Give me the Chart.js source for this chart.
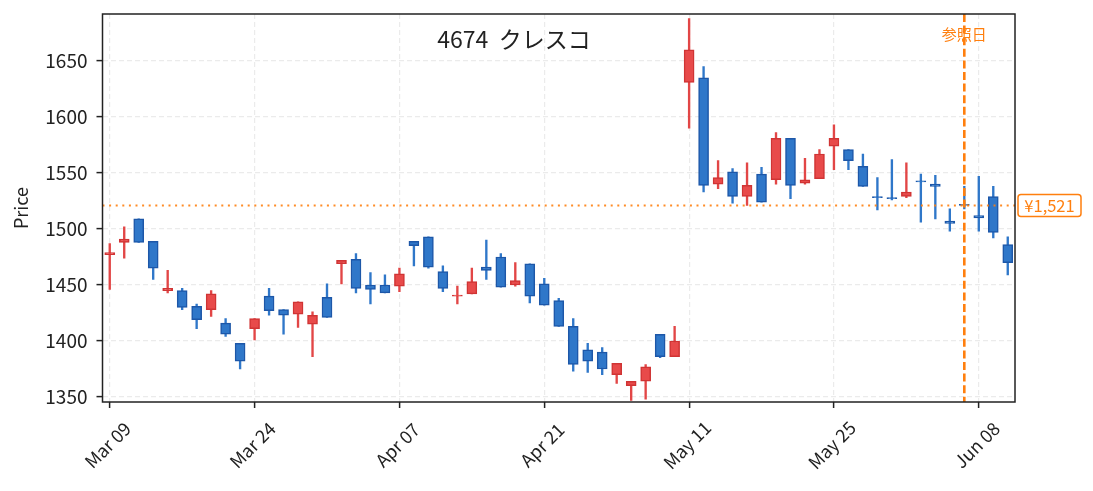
<!DOCTYPE html>
<html>
<head>
<meta charset="utf-8">
<script src="https://cdn.jsdelivr.net/npm/chart.js@4.4.1/dist/chart.umd.min.js"></script>
<style>
  html, body { margin: 0; background: #fff; }
  #wrap { width: 1093px; height: 491px; }
</style>
</head>
<body>
<div id="wrap"><canvas id="chart"></canvas></div>
<script>
// trading days, Mar 09 - Jun 10
const dates = [
  'Mar 09','Mar 10','Mar 11','Mar 12','Mar 13','Mar 16','Mar 17','Mar 18','Mar 19','Mar 23',
  'Mar 24','Mar 25','Mar 26','Mar 27','Mar 30','Mar 31','Apr 01','Apr 02','Apr 03','Apr 06',
  'Apr 07','Apr 08','Apr 09','Apr 10','Apr 13','Apr 14','Apr 15','Apr 16','Apr 17','Apr 20',
  'Apr 21','Apr 22','Apr 23','Apr 24','Apr 27','Apr 28','Apr 30','May 01','May 07','May 08',
  'May 11','May 12','May 13','May 14','May 15','May 18','May 19','May 20','May 21','May 22',
  'May 25','May 26','May 27','May 28','May 29','Jun 01','Jun 02','Jun 03','Jun 04','Jun 05',
  'Jun 08','Jun 09','Jun 10'
];
const opens = [
  1477,1488,1509,1489,1445,1445,1431,1428,1416,1398,
  1411,1440,1428,1424,1415,1439,1469,1473,1450,1450,
  1449,1489,1493,1462,1440,1442,1466,1475,1450,1469,
  1451,1436,1413,1392,1390,1370,1360,1364,1406,1386,
  1631,1635,1540,1551,1529,1549,1544,1581,1541,1545,
  1574,1571,1556,1529,1528,1529,1543,1540,1507,1522,
  1512,1529,1486
];
const highs = [
  1487,1502,1509,1489,1463,1447,1433,1445,1420,1398,
  1420,1447,1428,1435,1426,1451,1472,1478,1461,1459,
  1465,1489,1493,1467,1449,1465,1490,1478,1470,1469,
  1456,1438,1420,1398,1394,1380,1364,1379,1406,1413,
  1688,1645,1561,1554,1559,1555,1586,1581,1563,1571,
  1593,1571,1567,1546,1562,1559,1549,1548,1518,1538,
  1547,1538,1493
];
const lows = [
  1446,1474,1488,1455,1443,1428,1411,1422,1404,1375,
  1401,1423,1406,1412,1386,1421,1451,1443,1433,1443,
  1444,1467,1465,1444,1433,1442,1455,1448,1449,1434,
  1432,1413,1373,1372,1370,1362,1347,1348,1385,1386,
  1590,1533,1536,1523,1521,1524,1540,1527,1540,1545,
  1553,1553,1538,1517,1526,1528,1506,1509,1498,1518,
  1498,1492,1459
];
const closes = [
  1479,1491,1488,1465,1447,1430,1419,1442,1406,1382,
  1420,1427,1423,1435,1423,1421,1472,1447,1446,1443,
  1460,1485,1466,1447,1441,1453,1463,1448,1454,1440,
  1432,1413,1379,1382,1375,1380,1364,1377,1386,1400,
  1660,1539,1546,1529,1539,1524,1581,1539,1544,1567,
  1581,1561,1538,1528,1527,1533,1542,1538,1505,1521,
  1510,1497,1470
];
const yTicks = [1350, 1400, 1450, 1500, 1550, 1600, 1650];
const tickEvery = 10;
const refIndex = 59;      // 参照日 = Jun 05
const refPrice = 1521;
const titleText = '4674  クレスコ';

const FONT = "'Noto Sans CJK JP', 'Noto Sans', sans-serif";
const ORANGE = '#ff7f0e';
const isUp = i => closes[i] >= opens[i];

const overlay = {
  id: 'overlay',
  afterDatasetsDraw(chart) {
    const { ctx, chartArea: a, scales: { x, y } } = chart;
    ctx.save();

    // horizontal dotted price line
    const py = y.getPixelForValue(refPrice);
    ctx.strokeStyle = 'rgba(255,127,14,0.9)';
    ctx.lineWidth = 2;
    ctx.setLineDash([2, 4.6]);
    ctx.beginPath(); ctx.moveTo(a.left, py); ctx.lineTo(a.right, py); ctx.stroke();

    // vertical dashed reference day
    const rx = x.getPixelForValue(refIndex);
    ctx.strokeStyle = ORANGE;
    ctx.lineWidth = 2.6;
    ctx.setLineDash([8, 3.6]);
    ctx.beginPath(); ctx.moveTo(rx, a.top); ctx.lineTo(rx, a.bottom); ctx.stroke();
    ctx.setLineDash([]);

    ctx.fillStyle = ORANGE;
    ctx.font = '15px ' + FONT;
    ctx.textAlign = 'center';
    ctx.textBaseline = 'middle';
    ctx.fillText('参照日', rx, 34);

    // frame
    ctx.strokeStyle = '#222';
    ctx.lineWidth = 1.5;
    ctx.strokeRect(a.left, a.top, a.right - a.left, a.bottom - a.top);

    // title
    ctx.fillStyle = '#222';
    ctx.font = '23px ' + FONT;
    ctx.fillText(titleText, 514, 39);

    // price tag on the right
    const label = '¥' + refPrice.toLocaleString('en-US');
    ctx.font = '16.5px ' + FONT;
    const bx = a.right + 3, bw = 63, bh = 22;
    ctx.beginPath();
    ctx.roundRect(bx, py - bh / 2, bw, bh, 3);
    ctx.fillStyle = '#fff';
    ctx.fill();
    ctx.strokeStyle = ORANGE;
    ctx.lineWidth = 1.5;
    ctx.stroke();
    ctx.fillStyle = ORANGE;
    ctx.fillText(label, bx + bw / 2, py + 0.5);

    // rotated date labels
    ctx.fillStyle = '#222';
    ctx.font = '18px ' + FONT;
    dates.forEach((d, i) => {
      if (i % tickEvery !== 0) return;
      const tx = x.getPixelForValue(i);
      ctx.save();
      ctx.translate(tx - 2, 445);
      ctx.rotate(-Math.PI / 4);
      ctx.fillText(d, 0, 0);
      ctx.restore();
    });

    ctx.restore();
  }
};

new Chart(document.getElementById('chart'), {
  type: 'bar',
  data: {
    labels: dates,
    datasets: [
      {
        label: 'body',
        data: opens.map((o, i) => [o, closes[i]]),
        grouped: false,
        barThickness: 10,
        borderWidth: 1.5,
        borderSkipped: false,
        backgroundColor: opens.map((o, i) => isUp(i) ? '#e84a4a' : '#2f77c9'),
        borderColor: opens.map((o, i) => isUp(i) ? '#d03434' : '#1d57a8'),
        order: 0
      },
      {
        label: 'wick',
        data: lows.map((l, i) => [l, highs[i]]),
        grouped: false,
        barThickness: 1.7,
        borderWidth: 0,
        backgroundColor: lows.map((l, i) => isUp(i) ? '#e24646' : '#2f77c9'),
        order: 1
      }
    ]
  },
  options: {
    responsive: true,
    maintainAspectRatio: false,
    animation: false,
    layout: { padding: { top: 14, right: 78, left: 0, bottom: 0 } },
    plugins: { legend: { display: false }, tooltip: { enabled: false } },
    scales: {
      x: {
        type: 'category',
        offset: true,
        afterFit: s => { s.height = 89; s.paddingLeft = 0; s.paddingRight = 0; },
        border: { display: false, dash: [5, 3] },
        grid: {
          offset: false,
          color: c => c.index % tickEvery === 0 ? '#ebebeb' : 'rgba(0,0,0,0)',
          lineWidth: 1.2,
          tickColor: c => c.index % tickEvery === 0 ? '#222' : 'rgba(0,0,0,0)',
          tickLength: 6,
          tickWidth: 1.5,
          tickBorderDash: []
        },
        ticks: { autoSkip: false, maxRotation: 0, callback: () => '' }
      },
      y: {
        min: 1345.5,
        max: 1692,
        afterFit: s => { s.width = 102.5; s.paddingTop = 0; s.paddingBottom = 0; },
        afterBuildTicks: s => { s.ticks = yTicks.map(v => ({ value: v })); },
        border: { display: false, dash: [5, 3] },
        grid: {
          color: '#ebebeb',
          lineWidth: 1.2,
          tickColor: '#222',
          tickLength: 6,
          tickWidth: 1.5,
          tickBorderDash: []
        },
        ticks: {
          color: '#222',
          padding: 9,
          font: { family: FONT, size: 19 },
          callback: v => String(v)
        },
        title: {
          display: true,
          text: 'Price',
          color: '#222',
          font: { family: FONT, size: 18 },
          padding: { top: 10, bottom: 0 }
        }
      }
    }
  },
  plugins: [overlay]
});
</script>
</body>
</html>
